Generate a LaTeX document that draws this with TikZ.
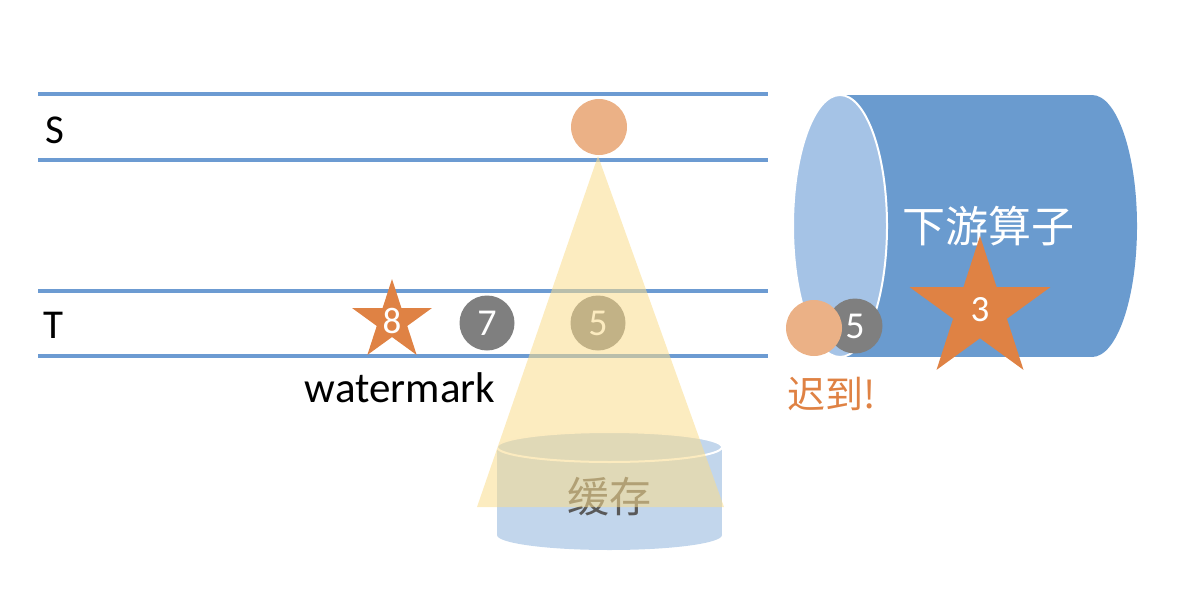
\documentclass[tikz,border=0pt]{standalone}
\usepackage{fontspec}
\setmainfont{Carlito}
\newfontfamily\cjk{Noto Sans CJK SC}
\usetikzlibrary{shapes.geometric}
\definecolor{lineblue}{HTML}{6C9BD2}
\definecolor{bodyblue}{HTML}{6A9BCF}
\definecolor{faceblue}{HTML}{A5C3E6}
\definecolor{cacheblue}{HTML}{C2D6EC}
\definecolor{starorange}{HTML}{DF8244}
\definecolor{peach}{HTML}{EBB186}
\definecolor{ballgray}{HTML}{7F7F7F}
\definecolor{coneyellow}{HTML}{FADC8C}
\definecolor{cachetext}{HTML}{595959}
\tikzset{
  track/.style={draw=lineblue, line width=4pt},
  ball/.style={circle, minimum size=55pt, inner sep=0pt, fill=ballgray, text=white, font=\fontsize{38}{42}\selectfont},
  peachball/.style={circle, minimum size=56pt, inner sep=0pt, fill=peach},
  starnode/.style={star, star points=5, star point ratio=2.618, inner sep=0pt, fill=starorange},
  startext/.style={inner sep=0pt, text=white, font=\fontsize{37}{40}\selectfont},
  rowlabel/.style={inner sep=0pt, font=\fontsize{41}{48}\selectfont},
}
\begin{document}
\begin{tikzpicture}[x=1pt,y=-1pt]
\useasboundingbox (0,0) rectangle (1182,602);
% tracks
\coordinate (s1l) at (38,94); \coordinate (s1r) at (768,94);
\coordinate (s2l) at (38,160); \coordinate (s2r) at (768,160);
\coordinate (t1l) at (38,291); \coordinate (t1r) at (768,291);
\coordinate (t2l) at (38,356); \coordinate (t2r) at (768,356);
\draw[track] (s1l) -- (s1r);
\draw[track] (s2l) -- (s2r);
\draw[track] (t1l) -- (t1r);
\draw[track] (t2l) -- (t2r);
\node[rowlabel, anchor=base west] (S) at (45,143) {S};
\node[rowlabel, anchor=base west] (T) at (43,338) {T};
% cache cylinder
\fill[cacheblue] (609.5,535) ellipse [x radius=112.5, y radius=15];
\fill[cacheblue] (497,447) rectangle (722,535);
\draw[fill=cacheblue, draw=white, line width=2pt] (609.5,447) ellipse [x radius=112.5, y radius=15];
\node[inner sep=0pt, text=cachetext, font=\cjk\fontsize{42}{48}\selectfont] (cache) at (609,497) {缓存};
% T row
\node[starnode, minimum size=84pt, label={[startext]center:8}] (star8) at (392,321) {};
\node[ball] (b7) at (487,323) {7};
\node[ball] (b5) at (598,323) {5};
\node[inner sep=0pt, font=\fontsize{43}{48}\selectfont, anchor=base] (wm) at (400,402) {watermark};
% downstream operator cylinder
\fill[bodyblue] (840,95) rectangle (1092,357);
\fill[bodyblue] (1092,226) ellipse [x radius=45, y radius=131];
\draw[fill=faceblue, draw=white, line width=2pt] (840,226) ellipse [x radius=47, y radius=131];
\node[inner sep=0pt, text=white, font=\cjk\fontsize{43}{50}\selectfont] (op) at (988,226) {下游算子};
\node[starnode, minimum size=148pt, label={[startext]center:3}] (star3) at (980,310) {};
\node[ball] (b5late) at (855,326) {5};
\node[peachball] (latepeach) at (814,328) {};
\node[inner sep=0pt, text=starorange, font=\cjk\fontsize{38}{44}\selectfont] (late) at (832,394) {迟到!};
% cone and S element
\coordinate (apex) at (598,156);
\coordinate (coneL) at (477,507);
\coordinate (coneR) at (724,507);
\fill[coneyellow, fill opacity=0.55] (apex) -- (coneL) -- (coneR) -- cycle;
\node[peachball] (sball) at (599,127) {};
\end{tikzpicture}
\end{document}
